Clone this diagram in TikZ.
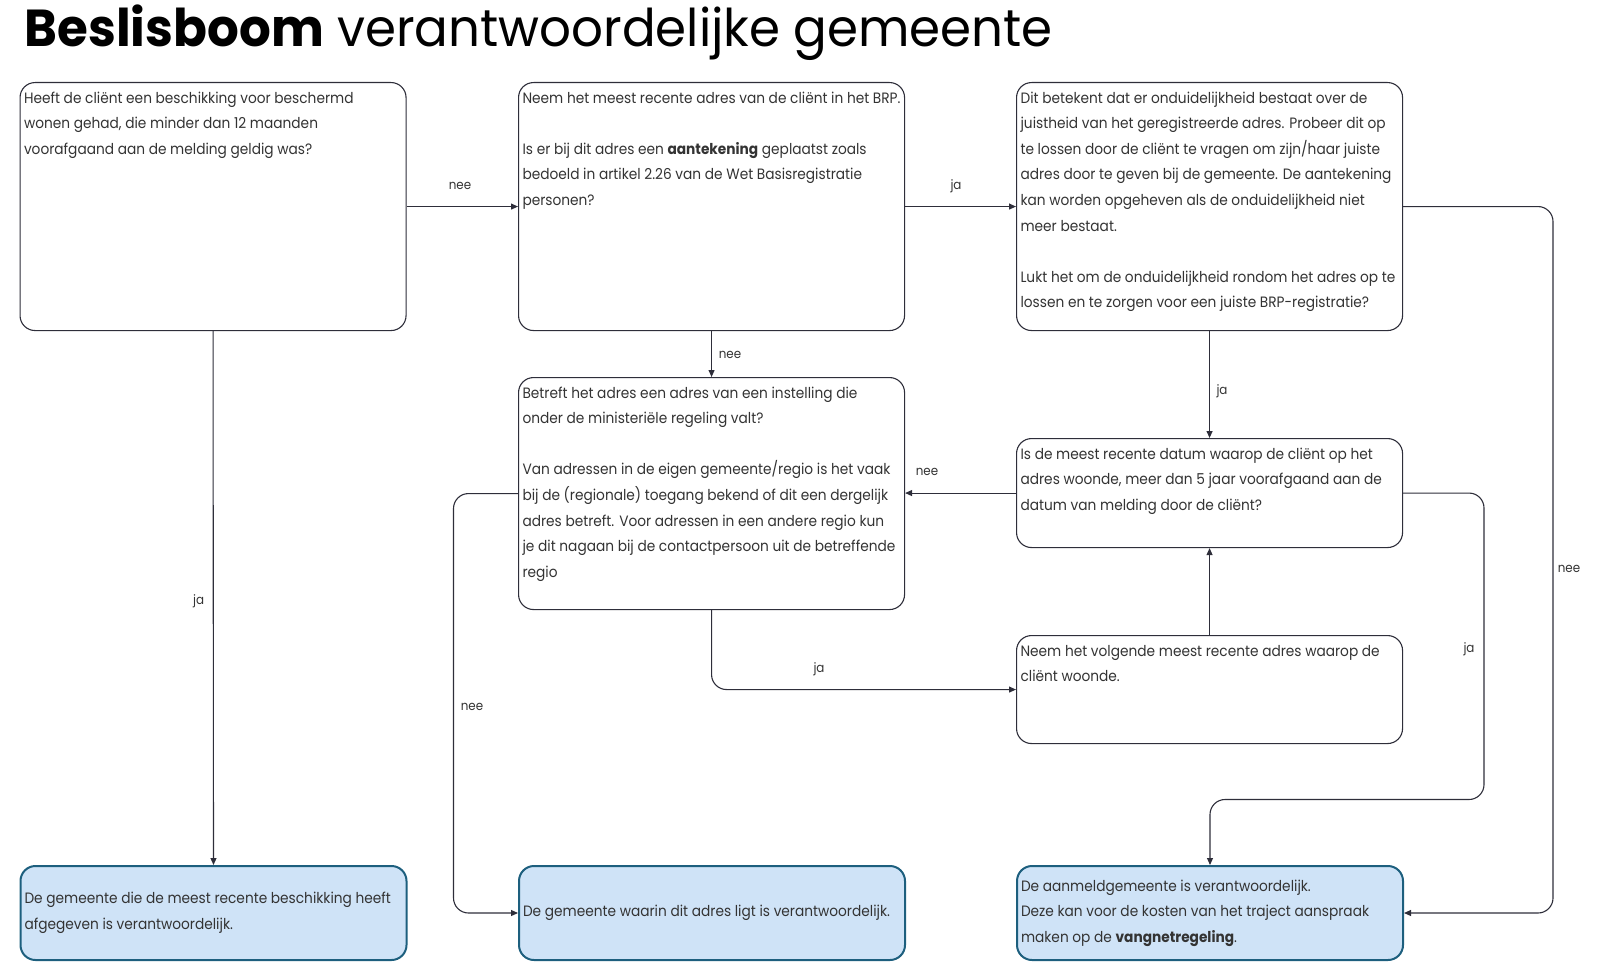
\documentclass[tikz,border=0pt]{standalone}
\usepackage{fontspec}
\setmainfont{Poppins}[FakeStretch=0.915]
\newfontfamily\titelfont{Poppins}[FakeStretch=0.96]
\usetikzlibrary{arrows.meta,calc,positioning}
\definecolor{lijn}{HTML}{2E2E3A}
\definecolor{tekst}{HTML}{333333}
\definecolor{blauw}{HTML}{CFE3F7}
\definecolor{petrol}{HTML}{1D5F7E}
\tikzset{>={Triangle[length=7pt,width=6pt]},
  vraag/.style={draw=lijn,fill=white,line width=1.1pt,rounded corners=15pt,
    inner xsep=4pt,inner ysep=0pt,anchor=north west,text=tekst},
  uitkomst/.style={vraag,draw=petrol,fill=blauw,line width=2pt},
  pijl/.style={->,draw=lijn,line width=1.1pt,rounded corners=15pt},
  keuze/.style={text=tekst,inner sep=1pt,font=\fontsize{13}{15}\selectfont}}
\newcommand{\vraagtekst}[2]{\parbox[c][#1][t]{378pt}{\fontsize{15}{25.6}\selectfont
  \raggedright\rule{0pt}{20.5pt}#2}}
\newcommand{\uitkomsttekst}[1]{\parbox[c][94pt][c]{378pt}{\fontsize{15}{25.6}\selectfont
  \raggedright #1}}

\begin{document}
\begin{tikzpicture}[x=1pt,y=-1pt]
\useasboundingbox (0,0) rectangle (1605,979);
\node[anchor=base west,inner sep=0pt] (titel) at (24.5,47)
  {\titelfont\fontsize{52}{60}\selectfont\textbf{Beslisboom} verantwoordelijke gemeente};
% vragen
\node[vraag] (beschikking) at (19.5,82) {\vraagtekst{248pt}{Heeft de cliënt een beschikking voor beschermd\\
  wonen gehad, die minder dan 12 maanden\\ voorafgaand aan de melding geldig was?}};
\node[vraag] (brp) at (518,82) {\vraagtekst{248pt}{Neem het meest recente adres van de cliënt in het BRP.\\[25.6pt]
  Is er bij dit adres een \textbf{aantekening} geplaatst zoals\\ bedoeld in artikel 2.26 van de Wet Basisregistratie\\ personen?}};
\node[vraag] (onduidelijk) at (1016,82) {\vraagtekst{248pt}{Dit betekent dat er onduidelijkheid bestaat over de\\
  juistheid van het geregistreerde adres. Probeer dit op\\ te lossen door de cliënt te vragen om zijn/haar juiste\\
  adres door te geven bij de gemeente. De aantekening\\ kan worden opgeheven als de onduidelijkheid niet\\ meer bestaat.\\[25.6pt]
  Lukt het om de onduidelijkheid rondom het adres op te\\ lossen en te zorgen voor een juiste BRP-registratie?}};
\node[vraag] (instelling) at (518,377) {\vraagtekst{232pt}{Betreft het adres een adres van een instelling die\\
  onder de ministeriële regeling valt?\\[25.6pt] Van adressen in de eigen gemeente/regio is het vaak\\
  bij de (regionale) toegang bekend of dit een dergelijk\\ adres betreft. Voor adressen in een andere regio kun\\
  je dit nagaan bij de contactpersoon uit de betreffende\\ regio}};
\node[vraag] (vijfjaar) at (1016,438) {\vraagtekst{109pt}{Is de meest recente datum waarop de cliënt op het\\
  adres woonde, meer dan 5 jaar voorafgaand aan de\\ datum van melding door de cliënt?}};
\node[vraag] (volgende) at (1016,635) {\vraagtekst{108pt}{Neem het volgende meest recente adres waarop de\\ cliënt woonde.}};
% uitkomsten
\node[uitkomst] (recentste) at (19.5,865) {\uitkomsttekst{De gemeente die de meest recente beschikking heeft\\ afgegeven is verantwoordelijk.}};
\node[uitkomst] (adresgemeente) at (518,865) {\uitkomsttekst{De gemeente waarin dit adres ligt is verantwoordelijk.}};
\node[uitkomst] (aanmeld) at (1016,865) {\uitkomsttekst{De aanmeldgemeente is verantwoordelijk.\\
  Deze kan voor de kosten van het traject aanspraak\\ maken op de \textbf{vangnetregeling}.}};
% pijlen
\draw[pijl] (beschikking.east)--(brp.west);
\draw[pijl] (brp.east)--(onduidelijk.west);
\draw[pijl] (brp.south)--(instelling.north);
\draw[pijl] (beschikking.south)--(recentste.north);
\draw[pijl] (onduidelijk.south)--(vijfjaar.north);
\draw[pijl] (onduidelijk.east) -| ([xshift=149pt]aanmeld.east)--(aanmeld.east);
\draw[pijl] (vijfjaar.west)--(vijfjaar.west -| instelling.east);
\coordinate (knik) at (1484,799.5);
\draw[pijl] (vijfjaar.east) -| (knik) -| (aanmeld.north);
\draw[pijl] (instelling.south) |- (volgende.west);
\draw[pijl] (instelling.west) -| ([xshift=-64.5pt]adresgemeente.west)--(adresgemeente.west);
\draw[pijl] (volgende.north)--(vijfjaar.south);
% keuzes
\node[keuze] at (460,186) {nee};
\node[keuze] at (956,186) {ja};
\node[keuze] at (730,355) {nee};
\node[keuze] at (198.6,601) {ja};
\node[keuze] at (1222,391) {ja};
\node[keuze] at (1569,569) {nee};
\node[keuze] at (927,472) {nee};
\node[keuze] at (1469,649) {ja};
\node[keuze] at (819,669) {ja};
\node[keuze] at (472,707) {nee};
\end{tikzpicture}
\end{document}
